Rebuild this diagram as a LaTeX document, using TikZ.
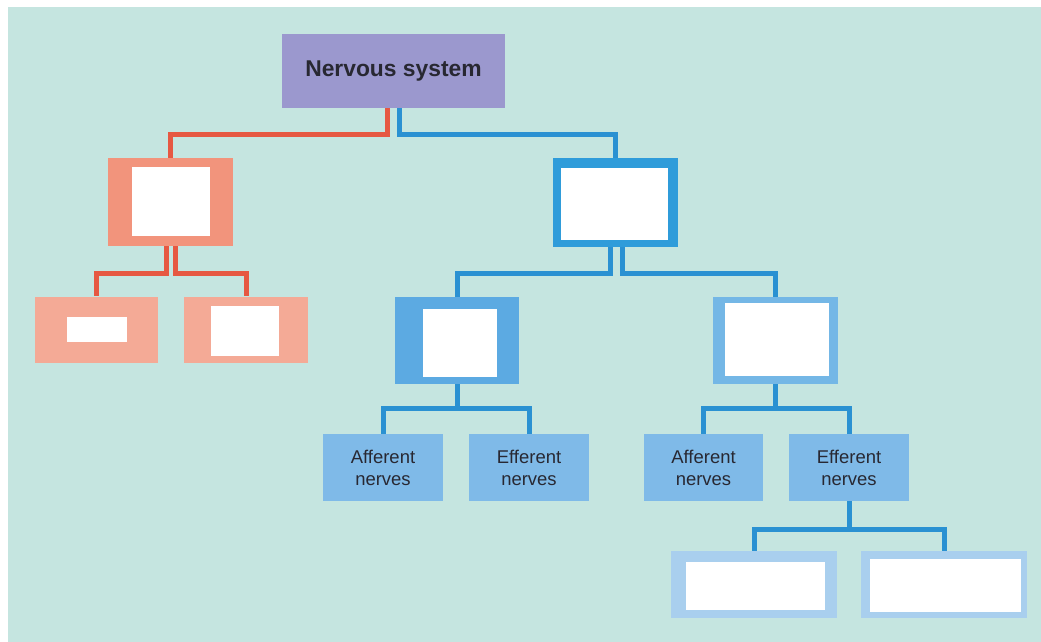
\documentclass[tikz,border=0pt]{standalone}
\usepackage{fontspec}
\setmainfont{Liberation Sans}
\usepackage{tikz}
\usetikzlibrary{calc}

\definecolor{bgteal}{RGB}{197,229,224}
\definecolor{rootpurple}{RGB}{155,152,206}
\definecolor{linered}{RGB}{230,88,66}
\definecolor{cnsred}{RGB}{242,148,124}
\definecolor{lowred}{RGB}{244,170,150}
\definecolor{lineblue}{RGB}{42,145,210}
\definecolor{pnsblue}{RGB}{47,156,218}
\definecolor{midblue}{RGB}{92,170,226}
\definecolor{nerveblue}{RGB}{127,186,232}
\definecolor{paleblue}{RGB}{169,207,238}
\definecolor{textgray}{RGB}{40,40,50}

\tikzset{
  box/.style={inner sep=0pt, draw=none},
  hole/.style={fill=white, inner sep=0pt, draw=none},
  nerve/.style={box, fill=nerveblue, minimum width=2.4cm, minimum height=1.34cm,
    align=center, text=textgray, font=\fontsize{10.5}{12.5}\selectfont},
  redline/.style={draw=linered, line width=0.1cm},
  blueline/.style={draw=lineblue, line width=0.1cm}
}

\begin{document}
\begin{tikzpicture}[x=0.02cm, y=-0.02cm]
    \useasboundingbox (0,0) rectangle (1041,642);
    \fill[bgteal] (8,7) rectangle (1041,642);

    % top
    \node[box, fill=rootpurple, minimum width=4.46cm, minimum height=1.48cm,
      text=textgray, font=\fontsize{13}{15}\selectfont\bfseries] (root) at (393.5,71) {Nervous system};

    % red side
    \node[box, fill=cnsred, minimum width=2.5cm, minimum height=1.76cm] (cns) at (170.5,202) {};
    \node[hole, minimum width=1.56cm, minimum height=1.38cm] (cnsin) at (171,201.5) {};
    \node[box, fill=lowred, minimum width=2.48cm, minimum height=1.34cm] (brain) at (96.5,330) {};
    \node[hole, minimum width=1.2cm, minimum height=0.5cm] (brainin) at (97,329.5) {};
    \node[box, fill=lowred, minimum width=2.5cm, minimum height=1.34cm] (cord) at (246,330) {};
    \node[hole, minimum width=1.36cm, minimum height=1.0cm] (cordin) at (245,331) {};

    % blue side
    \node[box, fill=pnsblue, minimum width=2.5cm, minimum height=1.78cm] (pns) at (615.5,202.5) {};
    \node[hole, minimum width=2.16cm, minimum height=1.44cm] (pnsin) at (614.5,204) {};
    \node[box, fill=midblue, minimum width=2.48cm, minimum height=1.74cm] (som) at (457,340.5) {};
    \node[hole, minimum width=1.48cm, minimum height=1.36cm] (somin) at (460,343) {};
    \node[box, fill=midblue!85!white, minimum width=2.5cm, minimum height=1.74cm] (aut) at (775.5,340.5) {};
    \node[hole, minimum width=2.08cm, minimum height=1.46cm] (autin) at (777,339.5) {};

    \node[nerve] (aff1) at (383,467.5) {Afferent\\nerves};
    \node[nerve] (eff1) at (529,467.5) {Efferent\\nerves};
    \node[nerve] (aff2) at (703.5,467.5) {Afferent\\nerves};
    \node[nerve] (eff2) at (849,467.5) {Efferent\\nerves};

    \node[box, fill=paleblue, minimum width=3.32cm, minimum height=1.34cm] (mot1) at (754,584.5) {};
    \node[hole, minimum width=2.78cm, minimum height=0.96cm] (mot1in) at (755.5,586) {};
    \node[box, fill=paleblue, minimum width=3.32cm, minimum height=1.34cm] (mot2) at (944,584.5) {};
    \node[hole, minimum width=3.02cm, minimum height=1.06cm] (mot2in) at (945.5,585.5) {};

    % connectors
    \draw[redline] ([xshift=-0.13cm]root.south) -- ++(0,26.5) -| (cns.north);
    \draw[blueline] ([xshift=0.12cm]root.south) -- ++(0,26.5) -| (pns.north);

    \draw[redline] ([xshift=-0.09cm]cns.south) -- ++(0,27) -| (brain.north);
    \draw[redline] ([xshift=0.1cm]cns.south) -- ++(0,27) -| (cord.north);

    \draw[blueline] ([xshift=-0.11cm]pns.south) -- ++(0,26.5) -| (som.north);
    \draw[blueline] ([xshift=0.13cm]pns.south) -- ++(0,26.5) -| (aut.north);

    \draw[blueline] (som.south) -- ++(0,24.5) coordinate (somj);
    \draw[blueline] (aff1.north) |- (somj) -| (eff1.north);
    \draw[blueline] (aut.south) -- ++(0,24.5) coordinate (autj);
    \draw[blueline] (aff2.north) |- (autj) -| (eff2.north);
    \draw[blueline] (eff2.south) -- ++(0,28.5) coordinate (effj);
    \draw[blueline] (mot1.north) |- (effj) -| (mot2.north);
\end{tikzpicture}
\end{document}
